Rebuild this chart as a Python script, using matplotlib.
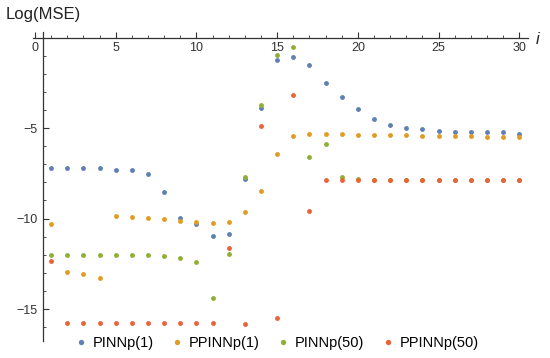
import numpy as np
import matplotlib
matplotlib.use("Agg")
import matplotlib.pyplot as plt
from matplotlib.ticker import MultipleLocator

plt.rcParams['font.family'] = ['Liberation Sans', 'DejaVu Sans']

iteracoes = np.arange(1, 31)

pinn_1 = [-7.23, -7.23, -7.23, -7.23, -7.30, -7.30, -7.54, -8.55, -9.97, -10.32,
          -10.97, -10.84, -7.83, -3.91, -1.24, -1.06, -1.52, -2.50, -3.29, -3.93,
          -4.52, -4.85, -4.98, -5.06, -5.17, -5.24, -5.24, -5.24, -5.24, -5.31]
ppinn_1 = [-10.30, -12.94, -13.07, -13.27, -9.86, -9.92, -9.97, -10.05, -10.12, -10.17,
           -10.23, -10.17, -9.66, -8.46, -6.44, -5.44, -5.31, -5.31, -5.31, -5.39,
           -5.39, -5.39, -5.37, -5.44, -5.44, -5.44, -5.44, -5.50, -5.50, -5.50]
pinn_50 = [-12.02, -12.02, -12.02, -12.02, -12.02, -12.02, -12.02, -12.09, -12.16, -12.42,
           -14.38, -11.94, -7.69, -3.73, -0.97, -0.51, -6.62, -5.90, -7.72, -7.80,
           -7.85, -7.85, -7.85, -7.85, -7.85, -7.85, -7.85, -7.85, -7.85, -7.85]
ppinn_50 = [-12.33, -15.77, -15.77, -15.77, -15.77, -15.77, -15.77, -15.77, -15.77, -15.77,
            -15.77, -11.63, -15.83, -4.87, -15.52, -3.16, -9.60, -7.89, -7.89, -7.89,
            -7.89, -7.89, -7.89, -7.89, -7.89, -7.89, -7.89, -7.89, -7.89, -7.89]

series = [("PINNp(1)", pinn_1, "#5E81B5"),
          ("PPINNp(1)", ppinn_1, "#E19C24"),
          ("PINNp(50)", pinn_50, "#8FB032"),
          ("PPINNp(50)", ppinn_50, "#EB6235")]

fig = plt.figure(figsize=(5.5, 3.58), dpi=100)
ax = fig.add_axes([0.0593, 0.0483, 0.901, 0.862])

for nome, valores, cor in series:
    ax.plot(iteracoes, valores, 'o', color=cor, markersize=3.5,
            markeredgewidth=0, label=nome)

ax.set_xlim(-0.15, 30.55)
ax.set_ylim(-16.75, 0.3)

for lado in ['right', 'top']:
    ax.spines[lado].set_visible(False)
ax.spines['bottom'].set_position(('data', 0))
ax.spines['left'].set_position(('data', 0.47))
for lado in ['bottom', 'left']:
    ax.spines[lado].set_color('#333333')
    ax.spines[lado].set_linewidth(0.9)

ax.xaxis.set_major_locator(MultipleLocator(5))
ax.xaxis.set_minor_locator(MultipleLocator(1))
ax.set_yticks([-15, -10, -5])
ax.yaxis.set_minor_locator(MultipleLocator(1))
ax.tick_params(which='both', direction='in', color='#333333', labelsize=9,
               labelcolor='#333333')
ax.tick_params(which='major', length=4, width=0.8)
ax.tick_params(which='minor', length=2.2, width=0.6)
ax.tick_params(axis='x', pad=3)

fig.text(0.01, 0.96, "Log(MSE)", fontsize=12, va='center', ha='left', color='#222222')
fig.text(0.978, 0.89, "i", fontsize=12, style='italic', va='center', ha='center',
         color='#222222')

fig.legend(loc='center', bbox_to_anchor=(0.505, 0.041), ncol=4, frameon=False,
           fontsize=10.5, handlelength=0.6, handletextpad=0.5, columnspacing=1.3,
           markerscale=1.1)

fig.savefig("out.png", dpi=100)
